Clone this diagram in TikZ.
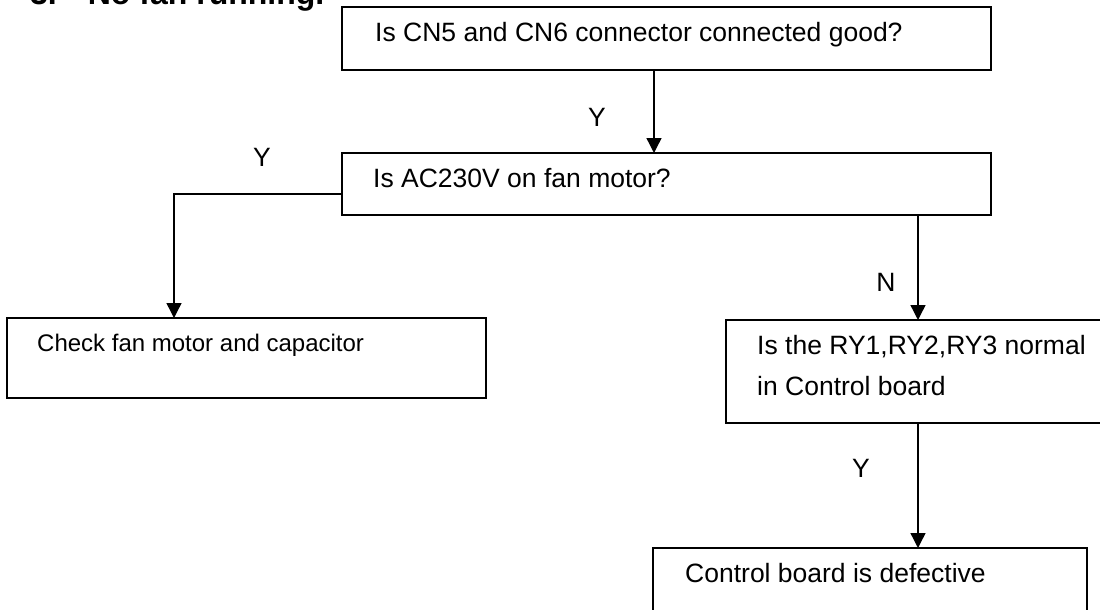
\documentclass[tikz,border=0pt]{standalone}
\usepackage{fontspec}
\setmainfont{Liberation Sans}
\usetikzlibrary{arrows.meta,positioning,calc}
\tikzstyle{box} = [rectangle, draw, line width=1.8pt, anchor=north west,
inner sep=0pt, outer sep=0pt]
\tikzstyle{txt} = [anchor=base west, inner sep=0pt,
font=\fontsize{26.5}{41}\selectfont, align=left]
\tikzstyle{yn} = [inner sep=0pt, font=\fontsize{26.5}{31}\selectfont]
\tikzstyle{arrow} = [-{Triangle[length=15pt,width=15pt]}, line width=1.4pt]

\begin{document}
\begin{tikzpicture}[x=1pt,y=-1pt]
        \useasboundingbox (0,0) rectangle (1100,610);
        \clip (0,0) rectangle (1100,610);
        % title, cut at the top of the page
        \node[txt, font=\fontsize{32}{38}\selectfont\bfseries] (title) at (30,5) {3.\hspace{31pt}No fan running.};
        % boxes
        \node[box, minimum width=649pt, minimum height=63pt] (cn) at (342,7) {};
        \node[box, minimum width=649pt, minimum height=62pt] (ac) at (342,153) {};
        \node[box, minimum width=479pt, minimum height=80pt] (motor) at (7,318) {};
        \node[box, minimum width=380pt, minimum height=103pt] (relay) at (726,320) {};
        \node[box, minimum width=434pt, minimum height=70pt] (board) at (653,548) {};
        % texts
        \node[txt] (cn-t) at (375,42) {Is CN5 and CN6 connector connected good?};
        \node[txt] (ac-t) at (373,187) {Is AC230V on fan motor?};
        \node[txt, font=\fontsize{24}{29}\selectfont] (motor-t) at (37,351) {Check fan motor and capacitor};
        \node[txt] (relay-t) at (757,395) {Is the RY1,RY2,RY3 normal\\in Control board};
        \node[txt] (board-t) at (685,582) {Control board is defective};
        % connectors
        \draw[arrow] ([xshift=312pt]cn.south west) -- ([xshift=312pt]cn.south west |- ac.north);
        \draw[arrow] ([yshift=-41pt]ac.north west) -| ([xshift=167pt]motor.north west);
        \draw[arrow] ([xshift=576pt]ac.south west) -- ([xshift=576pt]ac.south west |- relay.north);
        \draw[arrow] ([xshift=192pt]relay.south west) -- ([xshift=192pt]relay.south west |- board.north);
        % answers
        \node[yn] (y-1) at (597,117) {Y};
        \node[yn] (y-2) at (262,157) {Y};
        \node[yn] (n-1) at (886,282) {N};
        \node[yn] (y-3) at (861,468) {Y};
\end{tikzpicture}
\end{document}
